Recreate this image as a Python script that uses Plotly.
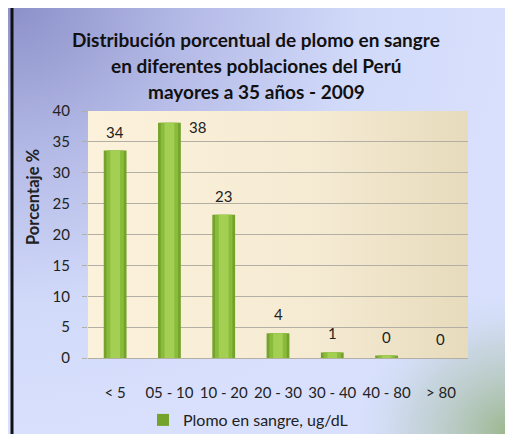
import plotly.graph_objects as go

# ---------------- data ----------------
categories = ["< 5", "05 - 10", "10 - 20", "20 - 30", "30 - 40", "40 - 80", "> 80"]
values = [33.6, 38.1, 23.2, 4.0, 0.9, 0.4, 0.0]
labels = ["34", "38", "23", "4", "1", "0", "0"]
y_ticks = [0, 5, 10, 15, 20, 25, 30, 35, 40]
series_name = "Plomo en sangre, ug/dL"
title_lines = ["Distribución porcentual de plomo en sangre",
               "en diferentes poblaciones del Perú",
               "mayores a 35 años - 2009"]
y_title = "Porcentaje %"

# ---------------- layout constants ----------------
# page body has an 8px margin: figure is drawn from page pixel 8
OFF = 8
PAGE_W, PAGE_H = 513, 434
W, H = PAGE_W - OFF, PAGE_H - OFF
FONT = "Lato"
PX_L, PX_R, PX_T, PX_B = 88, 468, 111, 358   # plot area in page pixels
YMAX = 40


def px(x):  # page x -> paper
    return (x - OFF) / W


def py(y):  # page y -> paper
    return 1 - (y - OFF) / H


fig = go.Figure()


def poly(x0, y0, x1, y1):
    return [x0, x1, x1, x0, x0], [y0, y0, y1, y1, y0]


# background decoration (page-pixel subplot xy)
bx, by = poly(12 - 500, 5 - 430, 512, 434)
fig.add_trace(go.Scatter(x=bx, y=by, fill="toself", mode="none",
                         fillgradient=dict(type="radial",
                                           colorscale=[[0, "#8c90c9"], [0.35, "#b4bae6"],
                                                       [0.7, "#d2dafa"], [1, "#d8e0fd"]]),
                         hoverinfo="skip", showlegend=False, xaxis="x", yaxis="y"))
gx, gy = poly(513 - 170, 434 - 150, 513 + 170, 434 + 150)
fig.add_trace(go.Scatter(x=gx, y=gy, fill="toself", mode="none",
                         fillgradient=dict(type="radial",
                                           colorscale=[[0, "rgba(150,178,130,0.95)"],
                                                       [0.6, "rgba(180,200,190,0.45)"],
                                                       [1, "rgba(216,224,253,0)"]]),
                         hoverinfo="skip", showlegend=False, xaxis="x", yaxis="y"))
cx, cy = poly(PX_L, PX_T, PX_R, PX_B)
fig.add_trace(go.Scatter(x=cx, y=cy, fill="toself", mode="none",
                         fillgradient=dict(type="horizontal",
                                           colorscale=[[0, "#fcf1da"], [0.6, "#f5ebd3"], [1, "#e7dbbc"]]),
                         hoverinfo="skip", showlegend=False, xaxis="x", yaxis="y"))

# bars: layered to imitate cylinder shading
bar_layers = [(0.42, "#74a32c", True), (0.32, "#8abb3a", False), (0.18, "#a3cf52", False)]
for w, col, leg in bar_layers:
    fig.add_trace(go.Bar(x=categories, y=values, width=w, name=series_name,
                         marker=dict(color=col, line=dict(width=0)),
                         showlegend=leg, hoverinfo="skip",
                         xaxis="x2", yaxis="y2"))

# data labels
px_per_unit = (PX_B - PX_T) / YMAX
for c, v, t in zip(categories, values, labels):
    if v + 22 / px_per_unit > YMAX:
        fig.add_annotation(x=c, y=v, text=t, showarrow=False, xref="x2", yref="y2",
                           xshift=28, yshift=-4, font=dict(family=FONT, size=15, color="#222"))
    else:
        fig.add_annotation(x=c, y=v, text=t, showarrow=False, xref="x2", yref="y2",
                           yshift=19, font=dict(family=FONT, size=15, color="#222"))

# title (three centred lines)
for i, line in enumerate(title_lines):
    fig.add_annotation(text=f"<b>{line}</b>", x=px(256), y=py(40 + 26 * i),
                       xref="paper", yref="paper", xanchor="center", yanchor="middle",
                       showarrow=False, font=dict(family=FONT, size=19, color="#111"))

# y axis title
fig.add_annotation(text=f"<b>{y_title}</b>", x=px(33), y=py(197), xref="paper", yref="paper",
                   xanchor="center", yanchor="middle",
                   textangle=-90, showarrow=False, font=dict(family=FONT, size=16.5, color="#222"))

# border
fig.add_shape(type="rect", xref="paper", yref="paper", x0=px(12), x1=px(511), y0=-0.03, y1=py(5),
              line=dict(color="#111", width=3), layer="above")

fig.update_layout(
    width=W, height=H,
    margin=dict(l=0, r=0, t=0, b=0, pad=0, autoexpand=False),
    paper_bgcolor="white", plot_bgcolor="rgba(0,0,0,0)",
    barmode="overlay",
    font=dict(family=FONT, color="#222"),
    xaxis=dict(domain=[0, 1], range=[OFF, PAGE_W], visible=False, fixedrange=True, automargin=False),
    yaxis=dict(domain=[0, 1], range=[PAGE_H, OFF], visible=False, fixedrange=True, automargin=False),
    xaxis2=dict(domain=[px(PX_L), px(PX_R)], anchor="y2", type="category",
                categoryorder="array", categoryarray=categories, automargin=False,
                showgrid=False, showline=False, ticks="", ticklabelstandoff=24,
                tickfont=dict(family=FONT, size=15, color="#222")),
    yaxis2=dict(domain=[py(PX_B), py(PX_T)], anchor="x2", range=[0, YMAX], automargin=False,
                tickvals=y_ticks, showgrid=True, gridcolor="#b3afa4", gridwidth=1,
                zeroline=True, zerolinecolor="#b3afa4", zerolinewidth=1,
                ticks="outside", ticklen=5, tickcolor="#b3afa4", showline=False,
                ticklabelstandoff=9,
                tickfont=dict(family=FONT, size=15, color="#222")),
    legend=dict(orientation="h", x=px(143), xanchor="left", y=py(420), yanchor="middle",
                xref="container", yref="container",
                bgcolor="rgba(0,0,0,0)", font=dict(family=FONT, size=16, color="#222"),
                itemwidth=30),
    showlegend=True,
)

fig.write_html("out.html")
